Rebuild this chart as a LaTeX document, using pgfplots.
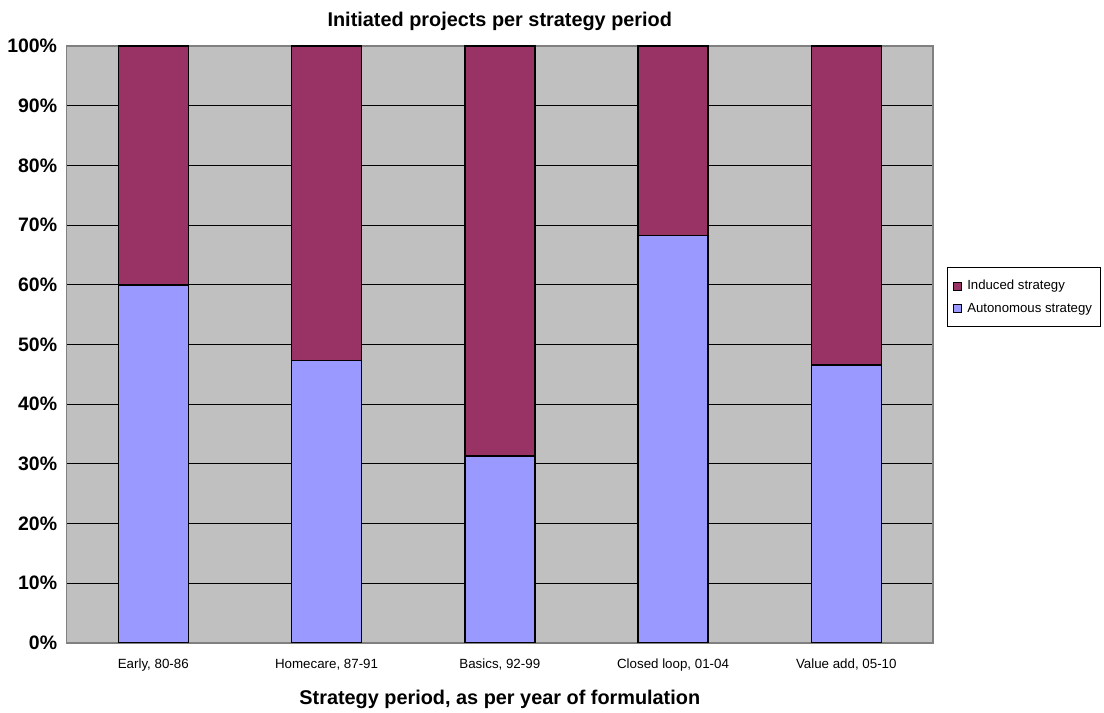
\documentclass[border=0pt]{standalone}
\usepackage{fontspec}
\setmainfont{Liberation Sans}
\usepackage{pgfplots}
\pgfplotsset{compat=1.18}
\definecolor{plum}{HTML}{993366}
\definecolor{peri}{HTML}{9999FF}
\definecolor{bg}{HTML}{C0C0C0}
\definecolor{frame}{HTML}{808080}
\pgfplotsset{sqlegend/.style={legend image code/.code={\draw[##1, draw=black, line width=0.6pt] (0pt,-3pt) rectangle (6pt,3pt);}}}
\begin{document}
\begin{tikzpicture}
\path[use as bounding box] (-50pt,-52.5pt) rectangle (778pt,482.25pt);
\begin{axis}[
  at={(0,0)}, anchor=south west,
  scale only axis, width=649.7pt, height=447.75pt,
  ybar stacked, bar width=52.5pt,
  xmin=-0.5, xmax=4.5, ymin=0, ymax=100,
  xtick={0,1,2,3,4},
  xticklabels={{Early, 80-86},{Homecare, 87-91},{Basics, 92-99},{Closed loop, 01-04},{Value add, 05-10}},
  ytick={0,10,...,100},
  yticklabels={0\%,10\%,20\%,30\%,40\%,50\%,60\%,70\%,80\%,90\%,100\%},
  major tick length=0pt,
  ymajorgrids, grid style={black, line width=0.75pt},
  axis line style={draw=frame, line width=1.1pt},
  axis background/.style={fill=bg},
  title={Initiated projects per strategy period},
  every axis title shift=0pt,
  title style={font=\fontsize{14.9}{18}\selectfont\bfseries, at={(0.5,1)}, anchor=base, yshift=14.5pt},
  xlabel={Strategy period, as per year of formulation},
  xlabel style={font=\fontsize{14.9}{18}\selectfont\bfseries, at={(0.5,0)}, anchor=base, yshift=-46.5pt},
  xticklabel style={font=\fontsize{10}{12}\selectfont, anchor=base, yshift=-19pt},
  yticklabel style={font=\fontsize{14.6}{17}\selectfont\bfseries, anchor=east, inner sep=0pt, xshift=-7pt},
  reverse legend,
  legend cell align=left,
  legend style={at={(1,0.6298)}, anchor=north west, xshift=10.3pt, draw=black, line width=0.75pt, fill=white,
    font=\fontsize{9.9}{12}\selectfont, inner xsep=4pt, inner ysep=7.5pt, row sep=4.5pt,
    /tikz/every even column/.append style={column sep=0pt},
    /tikz/every odd column/.append style={column sep=2.5pt}},
]
\addplot[fill=peri, draw=black, line width=1.1pt, sqlegend] coordinates {(0,60) (1,47.3) (2,31.3) (3,68.3) (4,46.6)};
\addplot[fill=plum, draw=black, line width=1.1pt, sqlegend] coordinates {(0,40) (1,52.7) (2,68.7) (3,31.7) (4,53.4)};
\legend{Autonomous strategy, Induced strategy}
\end{axis}
\end{tikzpicture}
\end{document}
